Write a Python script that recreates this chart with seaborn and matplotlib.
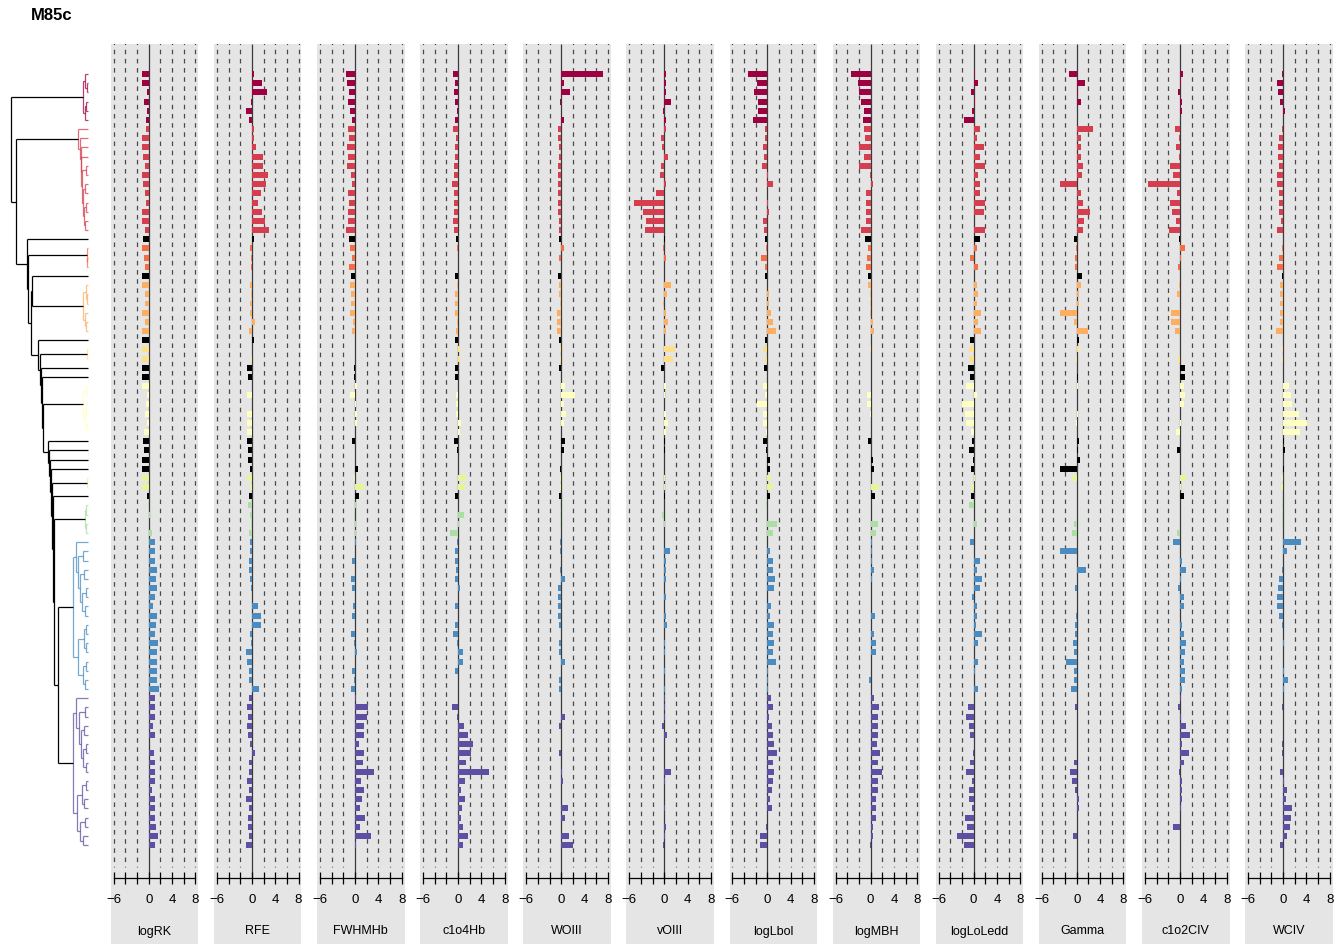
import matplotlib
matplotlib.use("Agg")
import numpy as np
import pandas as pd
import matplotlib.pyplot as plt
import seaborn as sns

plt.rcParams['font.family'] = ['Liberation Sans', 'DejaVu Sans']
plt.rcParams['lines.scale_dashes'] = False

# ---------------- data ----------------
title = "M85c"
variables = ["logRK", "RFE", "FWHMHb", "c1o4Hb", "WOIII", "vOIII",
             "logLbol", "logMBH", "logLoLedd", "Gamma", "c1o2CIV", "WCIV"]

# cluster id of each of the 85 rows (0 = unclustered / black)
cluster_of_row = ([1] * 6 + [2] * 12 + [0] + [3] * 3 + [0] + [4] * 6 + [0] +
                  [5] * 2 + [0, 0] + [6] * 6 + [0] * 4 + [7] * 2 + [0] +
                  [8] * 4 + [9] * 17 + [10] * 17)

cluster_colors = {0: "#000000", 1: "#9E0142", 2: "#D53E4F", 3: "#F46D43",
                  4: "#FDAE61", 5: "#FEE08B", 6: "#FFFFBF", 7: "#E6F598",
                  8: "#ABDDA4", 9: "#4A8CC2", 10: "#5E4FA2"}

logRK = [-1.1, -1.1, -0.35, -0.8, -0.25, -0.4,
         -0.5, -1.1, -1.1, -0.9, -0.7, -1.1, -1.0, -0.7, -0.4, -1.1, -1.1, -0.7,
         -1.0, -1.1, -0.75, -0.6, -1.1,
         -1.1, -0.7, -0.65, -1.1, -0.65, -1.1,
         -1.1, -1.1, -1.1, -1.1, -1.1,
         -1.1, -0.3, -0.4, -0.65, -0.25, -0.75,
         -0.9, -0.75, -1.1, -1.1, -1.1, -1.1, -0.35,
         -0.05, 0.15, 0.1, 0.5,
         1.0, 1.0, 1.0, 1.5, 1.25, 1.4, 1.1, 0.8, 1.4, 1.25, 1.15, 1.6, 1.4, 1.45, 1.5, 1.4, 1.8,
         1.0, 1.1, 1.0, 0.75, 1.0, 0.05, 0.85, 1.1, 1.0, 1.05, 0.5, 1.0, 1.0, 1.1, 1.25, 1.55, 1.15]
RFE = [0.4, 1.7, 2.6, -0.15, -1.0, -0.45,
       0.45, 0.4, 0.65, 1.95, 1.95, 2.75, 2.35, 1.6, 1.0, 1.8, 2.2, 3.0,
       0.4, -0.3, -0.2, -0.1, 0.05,
       -0.4, -0.1, -0.4, -0.4, 0.6, -0.55,
       0.3, 0.0, -0.15, -0.75, -0.7,
       0.05, -0.75, 0.0, -0.75, -0.75, -0.75,
       -0.85, -0.6, -0.6, -0.4, -0.75, -0.35, -0.45,
       -0.7, -0.4, -0.1, -0.45,
       -0.4, -0.3, -0.45, -0.55, -0.4, -0.1, 0.0, 1.0, 1.5, 1.6, -0.4, -0.1, -1.0, -0.9, -0.45, -0.45, 1.2,
       -0.55, -0.75, -0.65, -0.75, -0.6, -0.25, 0.6, -0.45, -0.55, -0.75, -0.45, -1.0, -0.5, -0.7, -0.6, -0.5, -1.0]
FWHMHb = [-1.5, -1.4, -1.1, -1.15, -0.85, -0.45,
          -1.15, -1.0, -1.4, -1.2, -1.4, -0.7, -0.45, -1.15, -1.05, -1.15, -1.15, -1.45,
          -1.05, -0.85, -0.45, -1.0, -0.7,
          -0.85, -0.75, -0.7, -0.85, -0.35, -0.45,
          0.0, 0.0, 0.05, -0.15, -0.15,
          0.4, -0.85, 0.15, 0.4, 0.4, 0.0,
          -0.45, 0.05, 0.05, 0.55, -0.1, 1.5, 0.7,
          0.1, -0.2, 0.1, 0.1,
          0.2, 0.0, -0.5, 0.0, -0.7, -0.45, 0.0, -0.35, -0.55, 0.0, -0.75, -0.1, 0.35, 0.0, -0.5, -0.2, -0.75,
          0.1, 2.2, 2.1, 1.55, 1.55, 0.7, 1.55, 1.35, 3.3, 1.0, 1.55, 1.15, 0.85, 1.65, 0.9, 2.7, 0.1]
c1o4Hb = [-0.8, -0.55, -0.75, -0.6, -0.2, -0.6,
          -0.8, -0.4, -0.55, -0.5, -0.75, -0.75, -1.05, -0.75, -0.75, -0.75, -0.85, -0.7,
          -0.4, -0.15, -0.05, -0.05, -0.45,
          -0.15, -0.55, -0.5, -0.45, -0.1, -0.35,
          -0.45, 0.4, 0.25, -0.6, -0.45,
          0.0, -0.35, -0.4, -0.4, 0.5, 0.25,
          -0.75, -0.25, 0.0, 0.0, 1.4, 1.25, -0.6,
          0.05, 1.0, 0.1, -1.4,
          -0.1, -0.55, -0.5, -0.35, -0.45, 0.35, 0.0, -0.45, 0.0, -0.55, -0.85, -0.15, 0.85, 0.85, -0.55, -0.05, -0.05,
          0.0, -1.05, -0.25, 1.0, 1.7, 2.5, 2.15, 1.3, 5.3, 1.25, 0.45, 1.2, 0.7, 0.45, 0.8, 1.75, 0.8]
WOIII = [7.15, 0.5, 1.55, -0.15, 0.0, 0.55,
         -0.5, -0.5, -0.45, -0.45, -0.5, -0.5, -0.6, -0.5, -0.6, -0.5, -0.45, -0.35,
         -0.4, 0.55, -0.35, -0.1, -0.55,
         -0.4, -0.35, -0.15, -0.75, -0.7, -0.7,
         -0.4, -0.15, -0.15, -0.35, 0.0,
         0.7, 2.3, 0.5, 0.85, 0.5, 0.0,
         0.7, 0.45, -0.1, -0.2, -0.15, -0.15, -0.45,
         -0.15, -0.15, -0.15, 0.0,
         -0.15, -0.15, 0.0, -0.15, 0.7, -0.5, -0.5, -0.5, -0.5, -0.35, 0.0, -0.4, -0.35, 0.7, 0.0, -0.4, -0.35,
         0.0, 0.0, 0.7, -0.3, 0.0, 0.0, -0.4, 0.0, 0.1, 0.3, 0.0, 0.0, 1.25, 0.7, 0.0, 1.35, 2.1]
vOIII = [0.3, 0.35, 0.35, 1.1, -0.15, 0.25,
         0.25, -0.55, -0.45, 0.65, -0.6, -0.75, 0.25, -1.35, -5.2, -3.6, -3.15, -3.35,
         0.05, -0.25, 0.25, 0.0, 0.0,
         1.2, 0.4, -0.25, 0.25, 0.65, 0.3,
         -0.1, 1.9, 1.55, -0.55, 0.0,
         0.35, 0.2, 0.0, 0.25, 0.65, 0.3,
         0.2, 0.1, 0.0, 0.0, 0.2, 0.2, 0.05,
         0.0, -0.35, 0.2, 0.0,
         0.0, 0.9, 0.25, 0.25, 0.25, 0.0, 0.25, 0.0, 0.25, 0.4, 0.0, 0.15, 0.15, 0.0, 0.15, 0.0, 0.15,
         0.2, 0.2, 0.2, -0.4, 0.4, 0.0, 0.0, 0.0, 1.1, 0.1, 0.0, 0.0, 0.15, 0.0, 0.3, 0.2, -0.25]
logLbol = [-3.4, -1.8, -2.3, -1.6, -1.6, -2.5,
           -0.5, -0.45, -0.75, -0.65, -1.0, 0.15, 0.95, -0.1, 0.15, 0.3, -0.75, -0.65,
           -0.4, -0.3, -1.05, -0.35, -0.35,
           -0.1, 0.3, 0.3, 0.65, 0.9, 1.5,
           -0.45, -0.8, -0.45, -0.65, 0.0,
           -0.8, -0.4, -1.8, -0.75, -0.75, -0.3,
           -0.75, -0.2, 0.4, 0.4, 0.6, 1.0, 0.45,
           -0.3, 0.0, 1.6, 1.0,
           0.0, 0.45, 0.95, 0.95, 1.35, 1.1, 0.0, 0.6, 0.45, 1.15, 1.0, 1.2, 0.9, 1.5, 0.15, 0.05, 0.15,
           0.55, 0.9, 0.35, 0.75, 0.9, 1.15, 1.6, 1.0, 1.15, 1.0, 0.7, 0.45, 0.8, 0.0, -0.25, -1.35, -1.3]
logMBH = [-3.3, -2.1, -1.9, -1.6, -1.2, -1.3,
          -1.15, -0.9, -1.9, -1.2, -2.05, -0.1, 0.35, -0.85, -0.85, -0.7, -0.85, -1.65,
          -1.0, -0.5, -0.65, -0.75, -0.5,
          -0.5, -0.15, -0.15, -0.1, 0.4, 0.55,
          0.0, -0.15, 0.0, 0.0, 0.15,
          0.0, -0.65, -0.65, -0.1, 0.0, 0.0,
          -0.45, 0.15, 0.45, 0.55, 0.15, 1.4, 0.8,
          0.1, 0.0, 1.2, 0.85,
          0.3, 0.3, 0.3, 0.55, 0.3, 0.15, 0.15, 0.1, 0.8, 0.1, 0.6, 0.85, 0.85, 0.0, 0.0, -0.25, 0.0,
          0.55, 1.4, 1.2, 1.25, 1.3, 1.15, 1.65, 1.35, 1.9, 1.2, 1.2, 0.95, 1.0, 0.9, 0.5, 0.35, -0.15]
logLoLedd = [0.2, 0.7, -0.4, 0.2, -0.35, -1.6,
             1.0, 0.65, 1.7, 1.05, 1.9, 0.75, 1.05, 1.1, 1.9, 1.7, 0.1, 1.9,
             1.05, 0.5, -0.55, 0.8, 0.1,
             0.5, 0.7, 0.5, 1.25, 0.7, 1.3,
             -0.6, -0.85, -0.8, -0.9, -0.55,
             -1.35, 0.5, -1.95, -1.45, -1.35, -0.5,
             -0.3, -0.75, -0.15, -0.5, 0.2, -0.45, -0.45,
             -0.8, 0.0, 0.55, 0.0,
             -0.55, 0.0, 1.0, 0.5, 1.45, 1.0, -0.35, 0.5, 0.5, 0.4, 1.4, 0.75, 0.0, 0.75, 0.3, 0.0, 0.8,
             0.0, -1.05, -1.25, -0.8, -0.7, 0.0, -0.15, -0.6, -1.25, -0.35, -0.85, -0.8, -0.35, -1.5, -1.15, -2.9, -1.6]
Gamma = [-1.35, 1.4, 0.15, 0.8, 0.05, 0.1,
         2.75, 0.8, 0.75, 0.8, 1.0, 0.9, -2.9, 0.8, 1.0, 2.2, 1.3, 1.0,
         -0.45, -0.1, -0.3, -0.3, 0.9,
         0.7, 0.4, 0.4, -2.9, -0.5, 1.9,
         0.4, 0.35, -0.1, 0.1, 0.25,
         0.15, 0.0, 0.0, 0.15, -0.15, 0.0,
         0.3, 0.15, 0.6, -2.9, -0.85, 0.0, 0.0,
         0.1, 0.1, -0.4, -0.75,
         0.1, -2.9, 0.0, 1.6, 0.0, -0.3, 0.1, 0.0, -0.1, -0.25, -0.35, -0.6, -0.55, -1.8, -0.55, -0.4, -1.0,
         0.0, -0.35, 0.0, 0.0, 0.0, 0.1, 0.1, -0.4, -1.1, -0.9, -0.3, 0.3, 0.4, 0.0, 0.1, -0.6, 0.0]
c1o2CIV = [0.5, 0.15, -0.4, 0.35, 0.4, 0.0,
           -0.8, -0.1, -0.7, -0.1, -1.65, -1.15, -5.55, -0.45, -1.7, -1.35, -0.7, -1.9,
           -0.1, 0.9, 0.15, -0.25, 0.0,
           -0.1, -0.45, 0.0, -1.45, -1.6, -0.8,
           0.0, 0.0, -0.4, 0.8, 0.8,
           0.65, 0.8, 0.65, 0.0, 0.15, -0.75,
           0.0, -0.45, 0.0, 0.0, 1.1, 0.15, 0.7,
           0.0, 0.0, 0.0, -0.55,
           -1.2, 0.0, 0.4, 1.0, 0.15, -0.35, 0.75, 0.7, 0.0, 0.3, 0.65, 1.0, 0.85, 0.65, 0.9, 0.85, 0.3,
           0.15, -0.35, 0.1, 1.05, 1.65, 0.35, 1.6, 0.65, -0.15, 0.3, 0.3, 0.3, 0.15, 0.0, -1.25, 0.0, 0.0]
WCIV = [-0.15, -1.0, -0.9, -0.45, 0.3, 0.0,
        -0.2, -0.7, -0.85, -0.85, -0.75, -0.95, -1.1, -0.7, -0.7, -0.75, -0.3, -0.95,
        0.0, -0.15, -0.65, -0.95, -0.25,
        -0.5, -0.5, -0.45, -0.55, -0.55, -1.2,
        0.0, -0.2, -0.2, 0.0, 0.0,
        1.1, 1.45, 1.55, 2.8, 4.1, 2.85,
        0.25, 0.4, 0.0, 0.1, -0.25, -0.3, 0.0,
        -0.2, -0.2, -0.2, 0.0,
        3.05, 0.7, 0.0, -0.15, -0.7, -0.8, -1.1, -1.05, -0.7, -0.15, 0.0, 0.1, 0.0, 0.0, 0.1, 0.85, 0.25,
        0.0, -0.15, 0.0, 0.0, 0.0, -0.15, -0.15, 0.0, -0.5, 0.1, 0.7, 0.45, 1.55, 1.35, 1.2, 0.6, -0.45]

series = [logRK, RFE, FWHMHb, c1o4Hb, WOIII, vOIII,
          logLbol, logMBH, logLoLedd, Gamma, c1o2CIV, WCIV]
n_rows = len(cluster_of_row)
for name, s in zip(variables, series):
    assert len(s) == n_rows, (name, len(s))

tick_values = [-6, -4, -2, 0, 2, 4, 6, 8]
tick_labels = ["\u22126", "", "", "0", "", "4", "", "8"]

# dendrogram: (height, left, right); leaves are row indices
C1 = (0.61, (0.35, 0, (0.15, 1, 2)), (0.45, (0.2, 3, 4), 5))
C2 = (1.26, 6, (1.1, 7, (0.95, 8, (0.85, 9, (0.75, (0.3, 10, 11),
      (0.6, (0.4, 12, 13), (0.5, (0.2, 14, 15), (0.35, 16, 17))))))))
C3 = (0.17, 19, (0.08, 20, 21))
C4 = (0.61, (0.3, 23, (0.15, 24, 25)), (0.4, 26, (0.2, 27, 28)))
C5 = (0.09, 30, 31)
C6 = (0.61, (0.25, 34, 35), (0.45, (0.2, 36, 37), (0.15, 38, 39)))
C7 = (0.09, 44, 45)
C8 = (0.39, (0.2, 47, 48), (0.25, 49, 50))
C9 = (1.91, (1.6, 51, (1.3, (0.6, 52, 53), (1.0, (0.5, 54, 55),
      (0.8, (0.3, 56, 57), (0.4, 58, 59))))),
      (1.35, (0.5, (0.2, 60, 61), (0.3, 62, 63)), (0.7, (0.3, 64, 65), (0.4, 66, 67))))
C10 = (1.91, (1.5, 68, (1.2, (0.4, 69, 70), (0.9, (0.5, 71, 72),
       (0.6, (0.2, 73, 74), (0.3, 75, 76))))),
       (1.4, (0.8, (0.3, 77, 78), (0.5, 79, 80)), (1.0, (0.4, 81, 82), (0.6, 83, 84))))
tree = (10.0, C1,
        (9.35, C2,
         (7.96, 18,
          (7.75, C3,
           (7.34, (7.21, 22, C4),
            (6.45, 29,
             (6.23, C5,
              (6.10, 32,
               (5.97, 33,
                (5.81, C6,
                 (5.16, 40,
                  (5.09, 41,
                   (4.94, 42,
                    (4.87, 43,
                     (4.71, C7,
                      (4.51, 46,
                       (4.42, C8, (3.86, C9, C10))))))))))))))))))

# ---------------- layout (pixels of a 1343 x 945 image) ----------------
W, H = 1343, 945
row0_px, row_px = 75.0, 9.18
top_px, bottom_px = 45.0, 945.0
y_top = (top_px - row0_px) / row_px
y_bot = (bottom_px - row0_px) / row_px
y_axis = (879 - row0_px) / row_px
y_grid_end = (868 - row0_px) / row_px
y_strip = (931.5 - row0_px) / row_px
xlim = (-6.5, 8.5)
panel_w_px = 87.5
grey = "#E5E5E5"

fig = plt.figure(figsize=(W / 100, H / 100), dpi=100)
fig.patch.set_facecolor("white")

row_names = [f"r{i:02d}" for i in range(n_rows)]
row_palette = {r: cluster_colors[c] for r, c in zip(row_names, cluster_of_row)}

row_pt = row_px * 0.72
dash_on = 0.5 * row_pt
dash_off = row_pt - dash_on

for k, (name, vals) in enumerate(zip(variables, series)):
    left_px = 110.8 + 103.12 * k
    ax = fig.add_axes([left_px / W, 1 - bottom_px / H, panel_w_px / W,
                       (bottom_px - top_px) / H])
    ax.set_facecolor(grey)
    df = pd.DataFrame({"row": row_names, "value": vals})
    sns.barplot(data=df, x="value", y="row", hue="row", palette=row_palette,
                order=row_names, hue_order=row_names, orient="h", width=0.65,
                saturation=1, errorbar=None, legend=False, linewidth=0,
                dodge=False, ax=ax)
    for g in tick_values:
        if g == 0:
            ax.plot([0, 0], [y_top, y_axis], color="#3a3a3a", lw=0.9,
                    zorder=0.6, solid_capstyle="butt")
        else:
            start = -3.5 - 0.5 * 0.5
            ax.plot([g, g], [start, y_grid_end], color="#4a4a4a", lw=0.9,
                    dashes=(dash_on, dash_off), zorder=0.5, clip_on=True)
    ax.set_xlim(*xlim)
    ax.set_ylim(y_bot, y_top)
    ax.set_yticks([])
    ax.set_xlabel("")
    ax.set_ylabel("")
    for sp in ("left", "right", "top"):
        ax.spines[sp].set_visible(False)
    ax.spines["bottom"].set_position(("data", y_axis))
    ax.spines["bottom"].set_bounds(tick_values[0], tick_values[-1])
    ax.spines["bottom"].set_linewidth(0.9)
    ax.set_xticks(tick_values)
    ax.set_xticklabels(tick_labels)
    ax.tick_params(axis="x", direction="inout", length=8, width=0.9,
                   pad=7, labelsize=9.5, color="black")
    ax.text(1.0, y_strip, name, ha="center", va="center", fontsize=9)

# ---------------- dendrogram ----------------
dax = fig.add_axes([0, 1 - bottom_px / H, 100 / W, (bottom_px - top_px) / H])
dax.set_xlim(11.43, -1.558)
dax.set_ylim(y_bot, y_top)
dax.axis("off")


def leaves(node):
    if isinstance(node, int):
        return [node]
    return leaves(node[1]) + leaves(node[2])


def node_color(node):
    cl = {cluster_of_row[i] for i in leaves(node)}
    if len(cl) == 1:
        c = cl.pop()
        if c != 0:
            return cluster_colors[c]
    return "#000000"


def draw(node):
    if isinstance(node, int):
        return float(node), 0.0
    h, l, r = node
    yl, hl = draw(l)
    yr, hr = draw(r)
    col = node_color(node)
    alpha = 1.0 if col == "#000000" else 0.75
    kw = dict(color=col, lw=0.9, alpha=alpha, solid_capstyle="butt")
    dax.plot([hl, h], [yl, yl], **kw)
    dax.plot([hr, h], [yr, yr], **kw)
    dax.plot([h, h], [yl, yr], **kw)
    return (yl + yr) / 2, h


draw(tree)

fig.text(31 / W, 1 - 15.5 / H, title, fontsize=12, fontweight="bold",
         ha="left", va="center")

fig.savefig("out.png", dpi=100)
